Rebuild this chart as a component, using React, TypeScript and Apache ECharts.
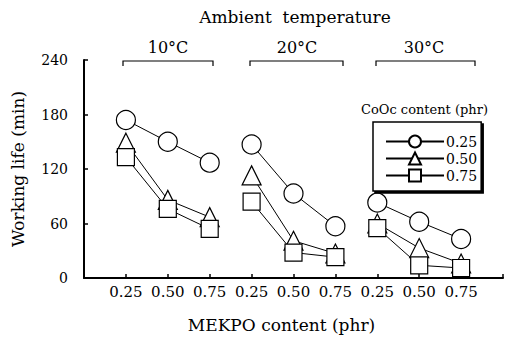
import React, { useEffect, useRef } from "react";
import * as echarts from "echarts";

const mekpoLabels = ["0.25", "0.50", "0.75"];
const temperatures = ["10°C", "20°C", "30°C"];
const cooc025 = [174, 150, 127, 147, 93, 57, 83, 62, 43];
const cooc050 = [149, 86, 67, 113, 41, 27, 60, 33, 16];
const cooc075 = [133, 76, 54, 84, 28, 23, 55, 14, 11];
const yTicks = [0, 60, 120, 180, 240];

const FONT = "DejaVu Serif";

function buildData(values: number[]) {
  const out: any[] = [];
  values.forEach((v, i) => {
    out.push([i + 1, v]);
    if (i % 3 === 2 && i < values.length - 1) out.push([i + 1.5, "-"]);
  });
  return out;
}

export default function App() {
  const ref = useRef<HTMLDivElement>(null);
  useEffect(() => {
    if (!ref.current) return;
    const chart = echarts.init(ref.current, null, { renderer: "svg" });
    const mk = (name: string, symbol: string, size: number, values: number[]) => ({
      name,
      type: "line",
      data: buildData(values),
      symbol,
      symbolSize: size,
      showAllSymbol: true,
      connectNulls: false,
      lineStyle: { color: "#000", width: 1 },
      itemStyle: { color: "#fff", borderColor: "#000", borderWidth: 1.2 },
      emphasis: { disabled: true },
    });
    const bracket = (x1: number, x2: number) => ({
      type: "polyline",
      shape: { points: [[x1, 66], [x1, 61], [x2, 61], [x2, 66]] },
      style: { stroke: "#000", lineWidth: 1.2, fill: null },
    });
    const txt = (text: string, x: number, y: number, size: number, align = "center") => ({
      type: "text",
      x,
      y,
      style: { text, fontFamily: FONT, fontSize: size, fill: "#000", align, verticalAlign: "middle" },
    });
    chart.setOption({
      animation: false,
      textStyle: { fontFamily: FONT, color: "#000" },
      grid: { left: 84, right: 4, top: 60, bottom: 55 },
      xAxis: {
        type: "value",
        min: 0,
        max: 10,
        interval: 1,
        name: "MEKPO content (phr)",
        nameLocation: "middle",
        nameGap: 38,
        nameTextStyle: { fontFamily: FONT, fontSize: 17, color: "#000", padding: [0, 24, 0, 0] },
        axisLine: { lineStyle: { color: "#000", width: 2 } },
        axisTick: { inside: true, length: 4, lineStyle: { color: "#000", width: 1.5 } },
        splitLine: { show: false },
        axisLabel: {
          fontFamily: FONT,
          fontSize: 15,
          color: "#000",
          margin: 6,
          formatter: (v: number) => (v >= 1 && v <= 9 ? mekpoLabels[(v - 1) % 3] : ""),
        },
      },
      yAxis: {
        type: "value",
        min: yTicks[0],
        max: yTicks[yTicks.length - 1],
        interval: 60,
        name: "Working life (min)",
        nameLocation: "middle",
        nameGap: 58,
        nameRotate: 90,
        nameTextStyle: { fontFamily: FONT, fontSize: 17, color: "#000" },
        axisLine: { show: true, lineStyle: { color: "#000", width: 2 } },
        axisTick: { show: true, inside: true, length: 4, lineStyle: { color: "#000", width: 1.5 } },
        splitLine: { show: false },
        axisLabel: { fontFamily: FONT, fontSize: 14, color: "#000", margin: 16 },
      },
      legend: {
        show: true,
        orient: "vertical",
        left: 373,
        top: 122,
        padding: [12, 4, 8, 12],
        itemGap: 2,
        itemWidth: 58,
        itemHeight: 15,
        backgroundColor: "#fff",
        borderColor: "#000",
        borderWidth: 1.5,
        shadowColor: "#000",
        shadowBlur: 0,
        shadowOffsetX: 2,
        shadowOffsetY: 2,
        textStyle: { fontFamily: FONT, fontSize: 14, lineHeight: 15, color: "#000", padding: [0, 0, 0, -3] },
        data: ["0.25", "0.50", "0.75"],
      },
      graphic: [
        txt("Ambient  temperature", 295, 17, 17),
        txt(temperatures[0], 168, 47, 16),
        txt(temperatures[1], 297, 47, 16),
        txt(temperatures[2], 424, 47, 16),
        bracket(123, 213),
        bracket(250, 343),
        bracket(376, 475),
        txt("CoOc content (phr)", 361, 109, 13, "left"),
      ],
      series: [
        mk("0.25", "circle", 19, cooc025),
        mk("0.50", "triangle", 19, cooc050),
        mk("0.75", "rect", 17, cooc075),
      ],
    });
    return () => chart.dispose();
  }, []);
  return <div ref={ref} style={{ width: 507, height: 338, position: "absolute", left: 0, top: 0, background: "#fff" }} />;
}
